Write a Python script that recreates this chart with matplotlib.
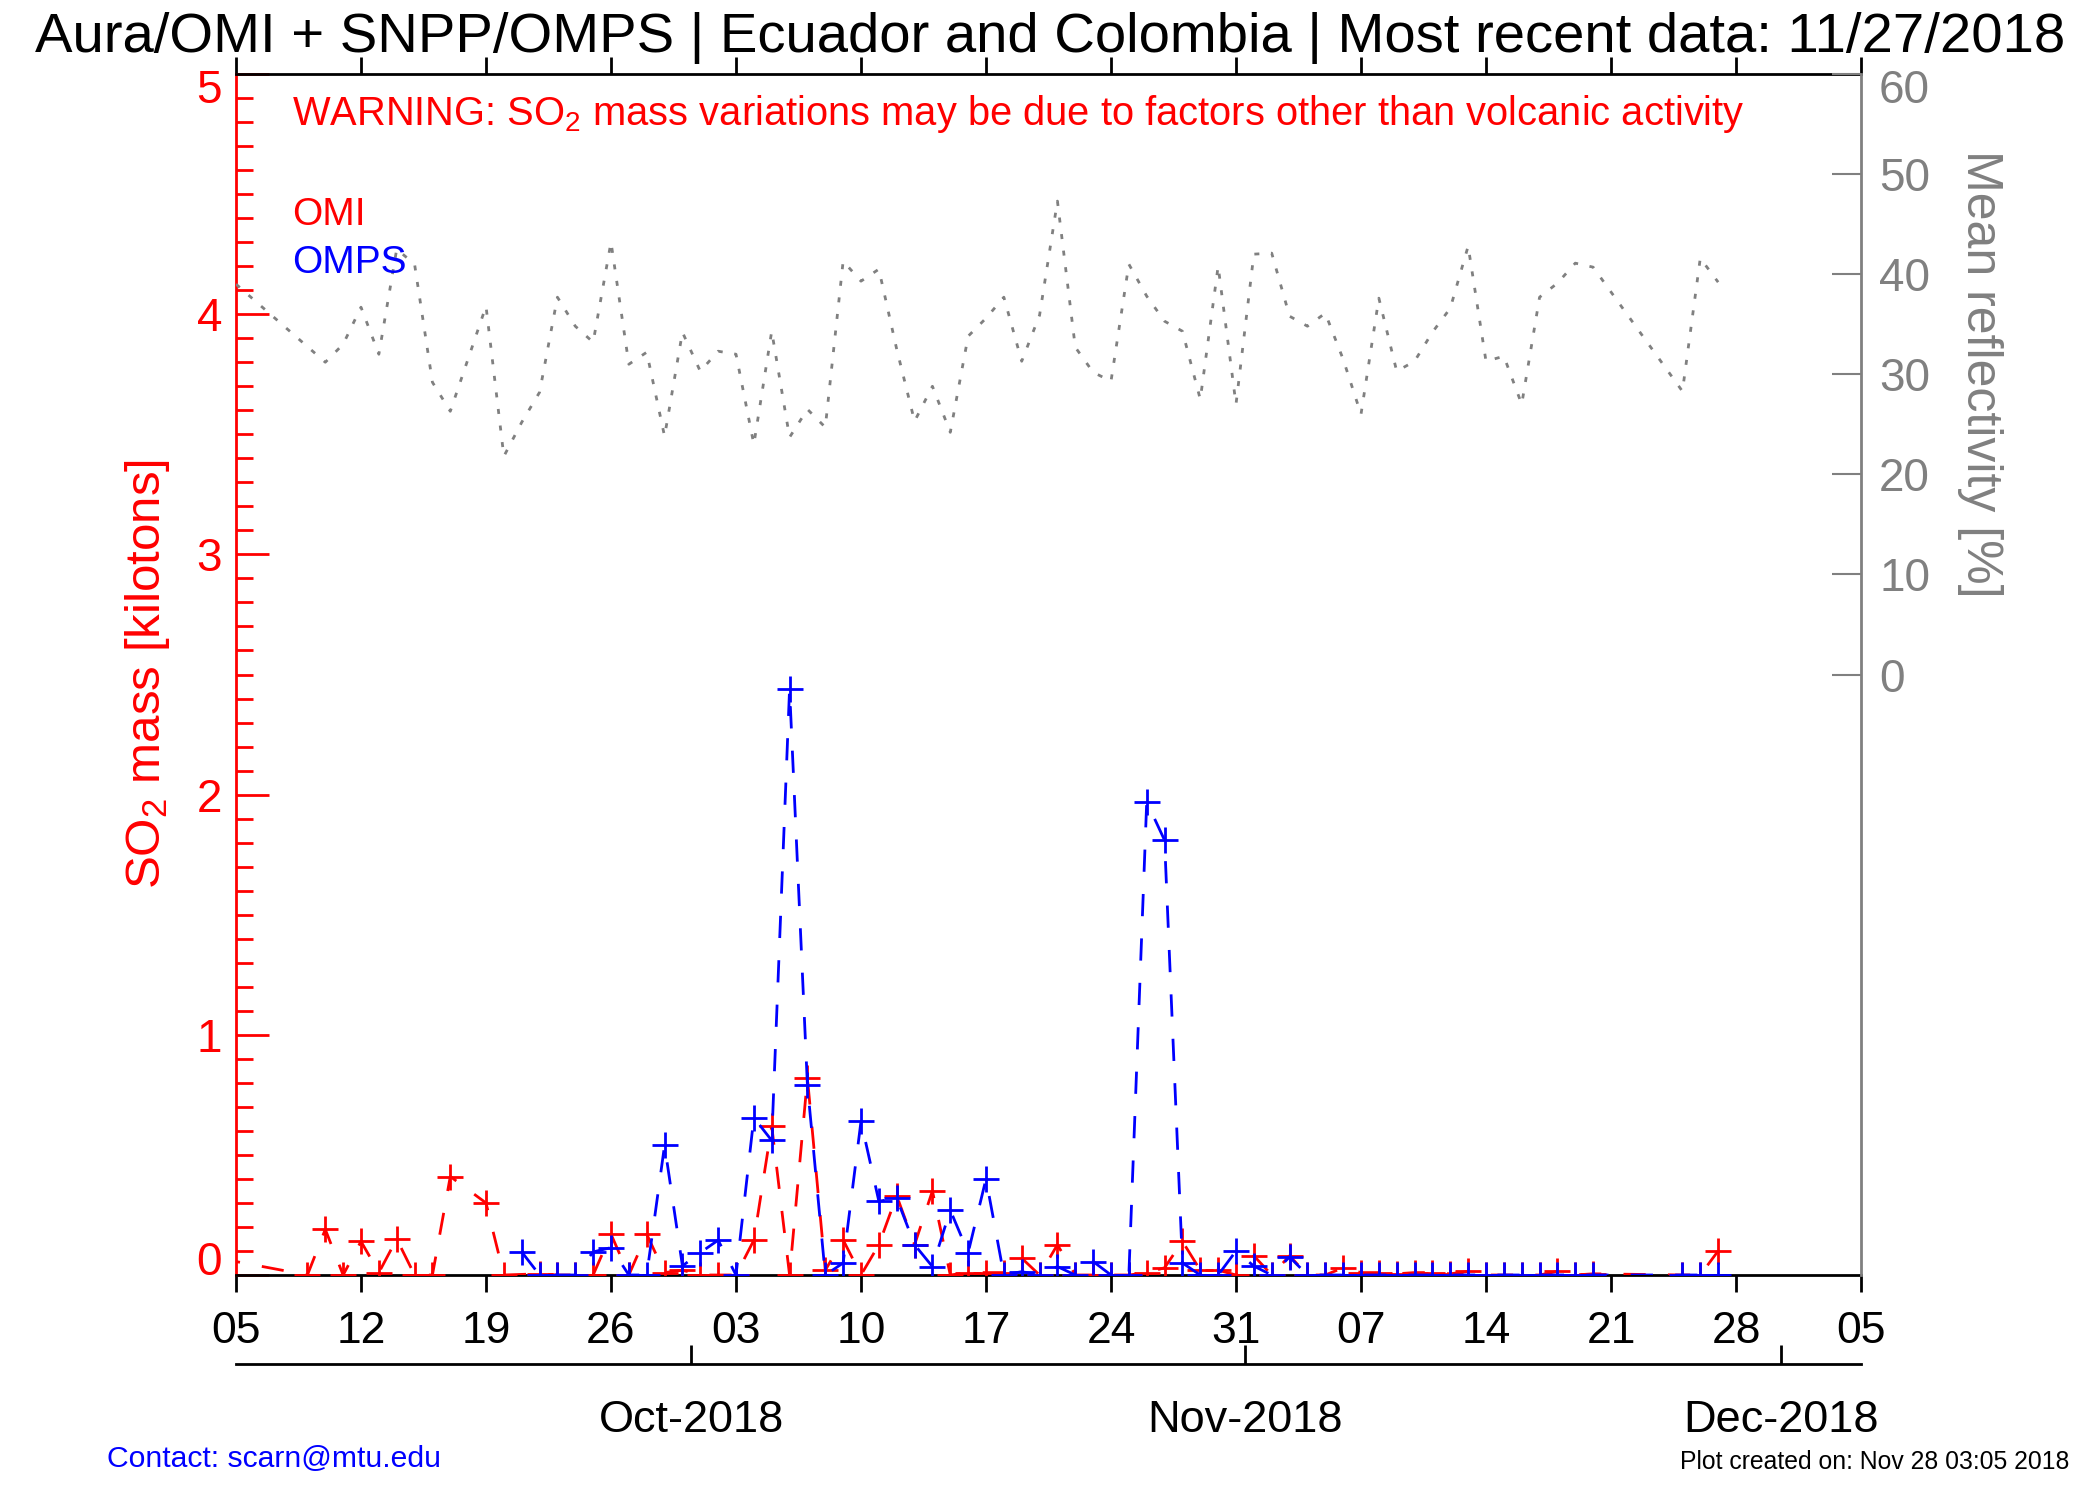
import numpy as np
import pandas as pd
import matplotlib
matplotlib.use('Agg')
import matplotlib.pyplot as plt
from matplotlib.ticker import FixedLocator, MultipleLocator
from matplotlib.transforms import ScaledTranslation
import matplotlib.dates as mdates

plt.rcParams['font.family'] = ['Liberation Sans', 'DejaVu Sans']
plt.rcParams['mathtext.fontset'] = 'custom'
plt.rcParams['mathtext.rm'] = 'Liberation Sans'
plt.rcParams['mathtext.it'] = 'Liberation Sans:italic'
plt.rcParams['mathtext.bf'] = 'Liberation Sans:bold'

# ---------------- data ----------------
omi_dates = ['2018-09-04', '2018-09-09', '2018-09-10', '2018-09-11', '2018-09-12', '2018-09-13',
             '2018-09-14', '2018-09-15', '2018-09-16', '2018-09-17', '2018-09-19', '2018-09-20',
             '2018-09-22', '2018-09-23', '2018-09-24', '2018-09-25', '2018-09-26', '2018-09-27',
             '2018-09-28', '2018-09-29', '2018-09-30', '2018-10-01', '2018-10-02', '2018-10-03',
             '2018-10-04', '2018-10-05', '2018-10-06', '2018-10-07', '2018-10-08', '2018-10-09',
             '2018-10-10', '2018-10-11', '2018-10-12', '2018-10-13', '2018-10-14', '2018-10-15',
             '2018-10-16', '2018-10-17', '2018-10-18', '2018-10-19', '2018-10-20', '2018-10-21',
             '2018-10-22', '2018-10-23', '2018-10-24', '2018-10-25', '2018-10-26', '2018-10-27',
             '2018-10-28', '2018-10-29', '2018-10-30', '2018-10-31', '2018-11-01', '2018-11-02',
             '2018-11-03', '2018-11-04', '2018-11-05', '2018-11-06', '2018-11-07', '2018-11-08',
             '2018-11-09', '2018-11-10', '2018-11-11', '2018-11-12', '2018-11-13', '2018-11-14',
             '2018-11-15', '2018-11-16', '2018-11-17', '2018-11-18', '2018-11-19', '2018-11-20',
             '2018-11-25', '2018-11-26', '2018-11-27']
omi_mass = [0.07, 0.0, 0.19, 0.0, 0.14, 0.01,
            0.15, 0.0, 0.0, 0.41, 0.30, 0.0,
            0.005, 0.0, 0.0, 0.0, 0.17, 0.0,
            0.17, 0.01, 0.02, 0.0, 0.0, 0.0,
            0.145, 0.62, 0.0, 0.82, 0.02, 0.146,
            0.0, 0.126, 0.33, 0.126, 0.35, 0.0,
            0.01, 0.01, 0.01, 0.07, 0.0, 0.126,
            0.0, 0.0, 0.0, 0.0, 0.01, 0.03,
            0.14, 0.02, 0.02, 0.0, 0.08, 0.0,
            0.08, 0.0, 0.0, 0.03, 0.01, 0.01,
            0.005, 0.01, 0.01, 0.005, 0.015, 0.0,
            0.0, 0.0, 0.0, 0.015, 0.0, 0.005,
            0.0, 0.0, 0.10]

omps_dates = ['2018-09-21', '2018-09-22', '2018-09-23', '2018-09-24', '2018-09-25', '2018-09-26',
              '2018-09-27', '2018-09-28', '2018-09-29', '2018-09-30', '2018-10-01', '2018-10-02',
              '2018-10-03', '2018-10-04', '2018-10-05', '2018-10-06', '2018-10-07', '2018-10-08',
              '2018-10-09', '2018-10-10', '2018-10-11', '2018-10-12', '2018-10-13', '2018-10-14',
              '2018-10-15', '2018-10-16', '2018-10-17', '2018-10-18', '2018-10-19', '2018-10-20',
              '2018-10-21', '2018-10-22', '2018-10-23', '2018-10-24', '2018-10-25', '2018-10-26',
              '2018-10-27', '2018-10-28', '2018-10-29', '2018-10-30', '2018-10-31', '2018-11-01',
              '2018-11-02', '2018-11-03', '2018-11-04', '2018-11-05', '2018-11-06', '2018-11-07',
              '2018-11-08', '2018-11-09', '2018-11-10', '2018-11-11', '2018-11-12', '2018-11-13',
              '2018-11-14', '2018-11-15', '2018-11-16', '2018-11-17', '2018-11-18', '2018-11-19',
              '2018-11-20', '2018-11-25', '2018-11-26', '2018-11-27']
omps_mass = [0.096, 0.0, 0.0, 0.0, 0.096, 0.114,
             0.0, 0.0, 0.54, 0.038, 0.093, 0.145,
             0.0, 0.655, 0.56, 2.44, 0.79, 0.0,
             0.05, 0.64, 0.307, 0.32, 0.126, 0.035,
             0.27, 0.093, 0.40, 0.0, 0.014, 0.0,
             0.035, 0.0, 0.056, 0.0, 0.0, 1.97,
             1.81, 0.05, 0.0, 0.0, 0.10, 0.037,
             0.0, 0.075, 0.0, 0.0, 0.0, 0.0,
             0.0, 0.0, 0.0, 0.0, 0.0, 0.0,
             0.0, 0.0, 0.0, 0.0, 0.0, 0.0,
             0.0, 0.0, 0.0, 0.0]

refl_dates = ['2018-09-05', '2018-09-10', '2018-09-11', '2018-09-12', '2018-09-13', '2018-09-14',
              '2018-09-15', '2018-09-16', '2018-09-17', '2018-09-19', '2018-09-20', '2018-09-21',
              '2018-09-22', '2018-09-23', '2018-09-24', '2018-09-25', '2018-09-26', '2018-09-27',
              '2018-09-28', '2018-09-29', '2018-09-30', '2018-10-01', '2018-10-02', '2018-10-03',
              '2018-10-04', '2018-10-05', '2018-10-06', '2018-10-07', '2018-10-08', '2018-10-09',
              '2018-10-10', '2018-10-11', '2018-10-12', '2018-10-13', '2018-10-14', '2018-10-15',
              '2018-10-16', '2018-10-17', '2018-10-18', '2018-10-19', '2018-10-20', '2018-10-21',
              '2018-10-22', '2018-10-23', '2018-10-24', '2018-10-25', '2018-10-26', '2018-10-27',
              '2018-10-28', '2018-10-29', '2018-10-30', '2018-10-31', '2018-11-01', '2018-11-02',
              '2018-11-03', '2018-11-04', '2018-11-05', '2018-11-06', '2018-11-07', '2018-11-08',
              '2018-11-09', '2018-11-10', '2018-11-11', '2018-11-12', '2018-11-13', '2018-11-14',
              '2018-11-15', '2018-11-16', '2018-11-17', '2018-11-18', '2018-11-19', '2018-11-20',
              '2018-11-25', '2018-11-26', '2018-11-27']
refl_pct = [39.0, 31.2, 33.0, 36.7, 32.0, 42.5,
            41.0, 29.2, 26.3, 36.8, 21.8, 25.2,
            28.2, 37.7, 34.8, 33.2, 43.2, 31.0,
            32.2, 23.8, 34.2, 30.3, 32.3, 32.0,
            23.0, 34.3, 23.7, 26.5, 24.7, 41.3,
            39.3, 40.5, 32.5, 25.3, 28.8, 24.2,
            33.8, 35.6, 37.7, 31.3, 35.9, 47.3,
            32.7, 30.2, 29.3, 41.0, 37.8, 35.3,
            34.3, 27.5, 40.8, 27.0, 42.0, 42.1,
            35.8, 34.8, 36.1, 31.5, 26.0, 37.6,
            30.3, 31.3, 34.2, 36.6, 42.8, 31.3,
            31.8, 27.0, 37.7, 39.1, 41.1, 40.7,
            28.3, 41.6, 39.2]

week_ticks = ['2018-09-05', '2018-09-12', '2018-09-19', '2018-09-26', '2018-10-03', '2018-10-10',
              '2018-10-17', '2018-10-24', '2018-10-31', '2018-11-07', '2018-11-14', '2018-11-21',
              '2018-11-28', '2018-12-05']
month_ticks = ['2018-10-01', '2018-11-01', '2018-12-01']
month_labels = ['Oct-2018', 'Nov-2018', 'Dec-2018']
mass_ticks = [0, 1, 2, 3, 4, 5]
refl_ticks = [0, 10, 20, 30, 40, 50, 60]

title = 'Aura/OMI + SNPP/OMPS | Ecuador and Colombia | Most recent data: 11/27/2018'

# ---------------- layout ----------------
W, H = 2100, 1500
GRAY = '#808080'
fig = plt.figure(figsize=(W / 100, H / 100), dpi=100)
L, R, B, T = 236 / W, 1861 / W, 1 - 1275 / H, 1 - 74 / H
ax = fig.add_axes([L, B, R - L, T - B])

noon = pd.Timedelta(hours=12)
x_omi = pd.to_datetime(omi_dates) + noon
x_omps = pd.to_datetime(omps_dates) + noon
x_refl = pd.to_datetime(refl_dates) + noon
xw = pd.to_datetime(week_ticks) + noon
xm = pd.to_datetime(month_ticks)

xlo, xhi = xw[0], xw[-1]

ax.plot(x_omi, omi_mass, color='red', lw=2, dashes=(8, 8), marker='+', ms=19, mew=2, zorder=3)
ax.plot(x_omps, omps_mass, color='blue', lw=2, dashes=(8, 8), marker='+', ms=19, mew=2, zorder=4)

ax.set_xlim(xlo, xhi)
ax.set_ylim(0, 5)
ax.yaxis.set_major_locator(FixedLocator(mass_ticks))
ax.yaxis.set_minor_locator(MultipleLocator(0.1))
ax.set_yticklabels([str(v) for v in mass_ticks])
ax.tick_params(axis='y', which='major', direction='in', length=24, width=2, color='red',
               labelcolor='red', labelsize=33, pad=10, right=False)
ax.tick_params(axis='y', which='minor', direction='in', length=12, width=2, color='red', right=False)

ax.set_xticks(xw)
ax.xaxis.set_major_formatter(mdates.DateFormatter('%d'))
ax.tick_params(axis='x', direction='out', length=12, width=2, color='black', labelsize=32,
               pad=14, top=True, labeltop=False)

ax.spines['left'].set_color('red')
ax.spines['left'].set_linewidth(2)
ax.spines['bottom'].set_linewidth(2)
ax.spines['top'].set_linewidth(2)
ax.spines['right'].set_visible(False)

# right axis: mean reflectivity
ax2 = ax.twinx()
ax2.plot(x_refl, refl_pct, color=GRAY, lw=2, dashes=(1.8, 4.2), zorder=2)
ax2.set_ylim(-60, 60)
ax2.set_yticks(refl_ticks)
ax2.tick_params(axis='y', direction='in', length=21, width=1.5, color=GRAY, labelcolor=GRAY,
                labelsize=33, pad=13)
for s in ['left', 'top', 'bottom']:
    ax2.spines[s].set_visible(False)
ax2.spines['right'].set_color(GRAY)
ax2.spines['right'].set_linewidth(2)
ax2.set_xlim(xlo, xhi)

# end labels pulled inside the frame, as in the original
down = ScaledTranslation(0, -0.29, fig.dpi_scale_trans)
t0 = ax.yaxis.get_major_ticks()[0].label1
t0.set_va('baseline')
t5 = ax.yaxis.get_major_ticks()[-1].label1
t5.set_va('baseline')
t5.set_transform(t5.get_transform() + down)
t60 = ax2.yaxis.get_major_ticks()[-1].label2
t60.set_va('baseline')
t60.set_transform(t60.get_transform() + down)

# month axis below
axm = fig.add_axes([L, 1 - 1364 / H, R - L, 0.0005])
axm.set_xlim(xlo, xhi)
axm.set_ylim(0, 1)
axm.set_yticks([])
axm.set_xticks(xm)
axm.set_xticklabels(month_labels)
axm.tick_params(axis='x', direction='in', length=14, width=2, labelsize=32.5, pad=26)
for s in ['left', 'top', 'right']:
    axm.spines[s].set_visible(False)
axm.spines['bottom'].set_linewidth(2)
axm.patch.set_visible(False)

# texts
fig.text(0.5, 1 - 52 / H, title, ha='center', va='baseline', fontsize=40.5)
fig.text(292 / W, 1 - 125 / H,
         'WARNING: SO$_2$ mass variations may be due to factors other than volcanic activity',
         color='red', fontsize=28.7, va='baseline')
fig.text(292 / W, 1 - 225 / H, 'OMI', color='red', fontsize=28, va='baseline')
fig.text(292 / W, 1 - 273 / H, 'OMPS', color='blue', fontsize=28, va='baseline')
fig.text(147 / W, (B + T) / 2, 'SO$_2$ mass [kilotons]', color='red', fontsize=35.5,
         rotation=90, ha='center', va='center')
fig.text(1980 / W, 1 - 374 / H, 'Mean reflectivity [%]', color=GRAY, fontsize=36,
         rotation=-90, ha='center', va='center')
fig.text(107 / W, 1 - 1467 / H, 'Contact: scarn@mtu.edu', color='blue', fontsize=21.7, va='baseline')
fig.text(2069 / W, 1 - 1469 / H, 'Plot created on: Nov 28 03:05 2018', color='black',
         fontsize=17.8, ha='right', va='baseline')

fig.savefig('out.png', dpi=100)
